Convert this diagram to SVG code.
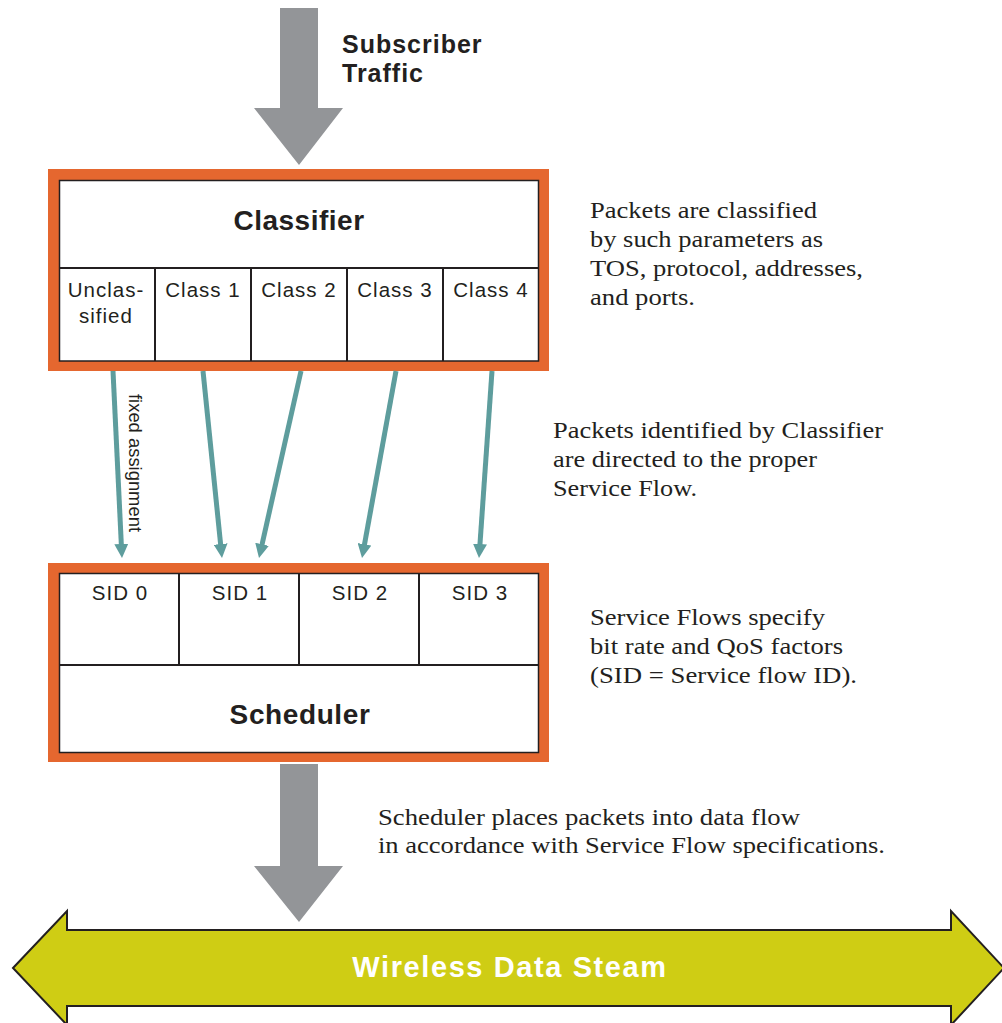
<svg xmlns="http://www.w3.org/2000/svg" width="1002" height="1023" viewBox="0 0 1002 1023">
<style>
.frame{fill:#e5672f}
.inner{fill:#fff;stroke:#231f20;stroke-width:1.5}
.div{stroke:#231f20;stroke-width:2;fill:none}
.bold{font-family:"Liberation Sans",Arial,sans-serif;font-weight:bold;fill:#231f20}
.cell{font-family:"Liberation Sans",Arial,sans-serif;fill:#231f20;font-size:20.5px;text-anchor:middle;letter-spacing:1px}
.note{font-family:"Liberation Serif","Times New Roman",serif;fill:#231f20;font-size:23px}
.gray{fill:#939598}
.conn{stroke:#5e9d9d;stroke-width:5;fill:none;marker-end:url(#ah)}
</style>
<defs>
<marker id="ah" viewBox="0 0 14 14" refX="4" refY="7" markerWidth="14" markerHeight="14" markerUnits="userSpaceOnUse" orient="auto">
<path d="M0,0 L14,7 L0,14 z" fill="#5e9d9d"/>
</marker>
</defs>
<rect width="1002" height="1023" fill="#fff"/>

<g id="subscriber-traffic">
<polygon class="gray" points="280,8 318,8 318,108 343,108 299,165 254,108 280,108"/>
<text class="bold" x="342" y="53" font-size="25" letter-spacing="1">Subscriber</text>
<text class="bold" x="342" y="82" font-size="25" letter-spacing="1">Traffic</text>
</g>

<g id="classifier">
<rect class="frame" x="48" y="169" width="501" height="202"/>
<rect class="inner" x="59.5" y="180.5" width="479" height="180.5"/>
<line class="div" x1="59.5" y1="268" x2="538.5" y2="268"/>
<line class="div" x1="155" y1="268" x2="155" y2="361"/>
<line class="div" x1="251" y1="268" x2="251" y2="361"/>
<line class="div" x1="347" y1="268" x2="347" y2="361"/>
<line class="div" x1="443" y1="268" x2="443" y2="361"/>
<text class="bold" x="299" y="230" font-size="28" letter-spacing="0.5" text-anchor="middle">Classifier</text>
<text class="cell" x="106" y="297">Unclas-</text>
<text class="cell" x="106" y="323">sified</text>
<text class="cell" x="203" y="297">Class 1</text>
<text class="cell" x="299" y="297">Class 2</text>
<text class="cell" x="395" y="297">Class 3</text>
<text class="cell" x="491" y="297">Class 4</text>
</g>

<g id="connectors">
<line class="conn" x1="113" y1="371" x2="121.5" y2="548"/>
<line class="conn" x1="203" y1="371" x2="221" y2="548"/>
<line class="conn" x1="301" y1="371" x2="261.2" y2="548.2"/>
<line class="conn" x1="396" y1="371" x2="363.8" y2="548.2"/>
<line class="conn" x1="492" y1="371" x2="479.7" y2="548"/>
<text font-family="Liberation Sans, Arial, sans-serif" font-size="18" fill="#231f20" text-anchor="middle" textLength="138" lengthAdjust="spacingAndGlyphs" transform="translate(129,463) rotate(90)">fixed assignment</text>
</g>

<g id="scheduler">
<rect class="frame" x="48" y="563" width="501" height="199"/>
<rect class="inner" x="59.5" y="573.5" width="479" height="179"/>
<line class="div" x1="59.5" y1="665" x2="538.5" y2="665"/>
<line class="div" x1="179" y1="573.5" x2="179" y2="665"/>
<line class="div" x1="299" y1="573.5" x2="299" y2="665"/>
<line class="div" x1="419" y1="573.5" x2="419" y2="665"/>
<text class="cell" x="120" y="600" font-size="22" letter-spacing="0.3">SID 0</text>
<text class="cell" x="240" y="600" font-size="22" letter-spacing="0.3">SID 1</text>
<text class="cell" x="360" y="600" font-size="22" letter-spacing="0.3">SID 2</text>
<text class="cell" x="480" y="600" font-size="22" letter-spacing="0.3">SID 3</text>
<text class="bold" x="300" y="724" font-size="28" letter-spacing="0.6" text-anchor="middle">Scheduler</text>
</g>

<g id="output-arrow">
<polygon class="gray" points="280,764 318,764 318,866 343,866 299,922 254,866 280,866"/>
</g>

<g id="data-stream">
<polygon points="13,968 67,911 67,930 951,930 951,911 1004,968 951,1025 951,1006 67,1006 67,1025" fill="#cfcd14" stroke="#231f20" stroke-width="2"/>
<text x="510" y="977" font-family="Liberation Sans, Arial, sans-serif" font-weight="bold" font-size="29" letter-spacing="1.6" fill="#fff" text-anchor="middle">Wireless Data Steam</text>
</g>

<g id="note-classify">
<text class="note" x="590" y="218" textLength="227" lengthAdjust="spacingAndGlyphs">Packets are classified</text>
<text class="note" x="590" y="247" textLength="233" lengthAdjust="spacingAndGlyphs">by such parameters as</text>
<text class="note" x="590" y="276" textLength="273" lengthAdjust="spacingAndGlyphs">TOS, protocol, addresses,</text>
<text class="note" x="590" y="305" textLength="105" lengthAdjust="spacingAndGlyphs">and ports.</text>
</g>

<g id="note-direct">
<text class="note" x="553" y="438" textLength="330" lengthAdjust="spacingAndGlyphs">Packets identified by Classifier</text>
<text class="note" x="553" y="467" textLength="264" lengthAdjust="spacingAndGlyphs">are directed to the proper</text>
<text class="note" x="553" y="496" textLength="144" lengthAdjust="spacingAndGlyphs">Service Flow.</text>
</g>

<g id="note-flows">
<text class="note" x="590" y="625" textLength="235" lengthAdjust="spacingAndGlyphs">Service Flows specify</text>
<text class="note" x="590" y="654" textLength="253" lengthAdjust="spacingAndGlyphs">bit rate and QoS factors</text>
<text class="note" x="590" y="683" textLength="267" lengthAdjust="spacingAndGlyphs">(SID = Service flow ID).</text>
</g>

<g id="note-scheduler">
<text class="note" x="378" y="825" textLength="422" lengthAdjust="spacingAndGlyphs">Scheduler places packets into data flow</text>
<text class="note" x="378" y="853" textLength="507" lengthAdjust="spacingAndGlyphs">in accordance with Service Flow specifications.</text>
</g>
</svg>
